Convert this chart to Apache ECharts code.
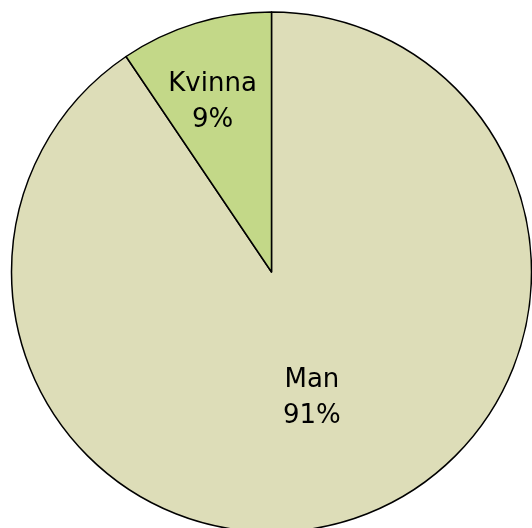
<!DOCTYPE html>
<html>
<head>
<meta charset="utf-8">
<script src="https://cdn.jsdelivr.net/npm/echarts@6/dist/echarts.min.js"></script>
<style>
  html, body { margin: 0; padding: 0; background: #fff; }
  #chart { width: 532px; height: 528px; }
</style>
</head>
<body>
<div id="chart"></div>
<script>
// data (labels are rounded to whole percent)
var categories = ['Man', 'Kvinna'];
var shares = [90.55, 9.45];
var colors = ['#DDDDB8', '#C3D888'];
var labelShift = [[1.5, -1], [-20, -43]];

var chart = echarts.init(document.getElementById('chart'));

var pieData = categories.map(function (name, i) {
  return {
    name: name,
    value: shares[i],
    itemStyle: { color: colors[i] },
    label: { offset: labelShift[i] }
  };
});

chart.setOption({
  animation: false,
  series: [
    {
      type: 'pie',
      center: [271.5, 272],
      radius: 260,
      startAngle: 90,
      clockwise: true,
      itemStyle: {
        borderColor: '#000',
        borderWidth: 1.5
      },
      label: {
        show: true,
        position: 'inside',
        formatter: function (p) {
          return p.name + '\n' + Math.round(p.value) + '%';
        },
        color: '#000',
        fontFamily: 'DejaVu Sans',
        fontSize: 26,
        lineHeight: 36,
        align: 'center'
      },
      labelLine: { show: false },
      emphasis: { disabled: true },
      data: pieData
    }
  ]
});
</script>
</body>
</html>
